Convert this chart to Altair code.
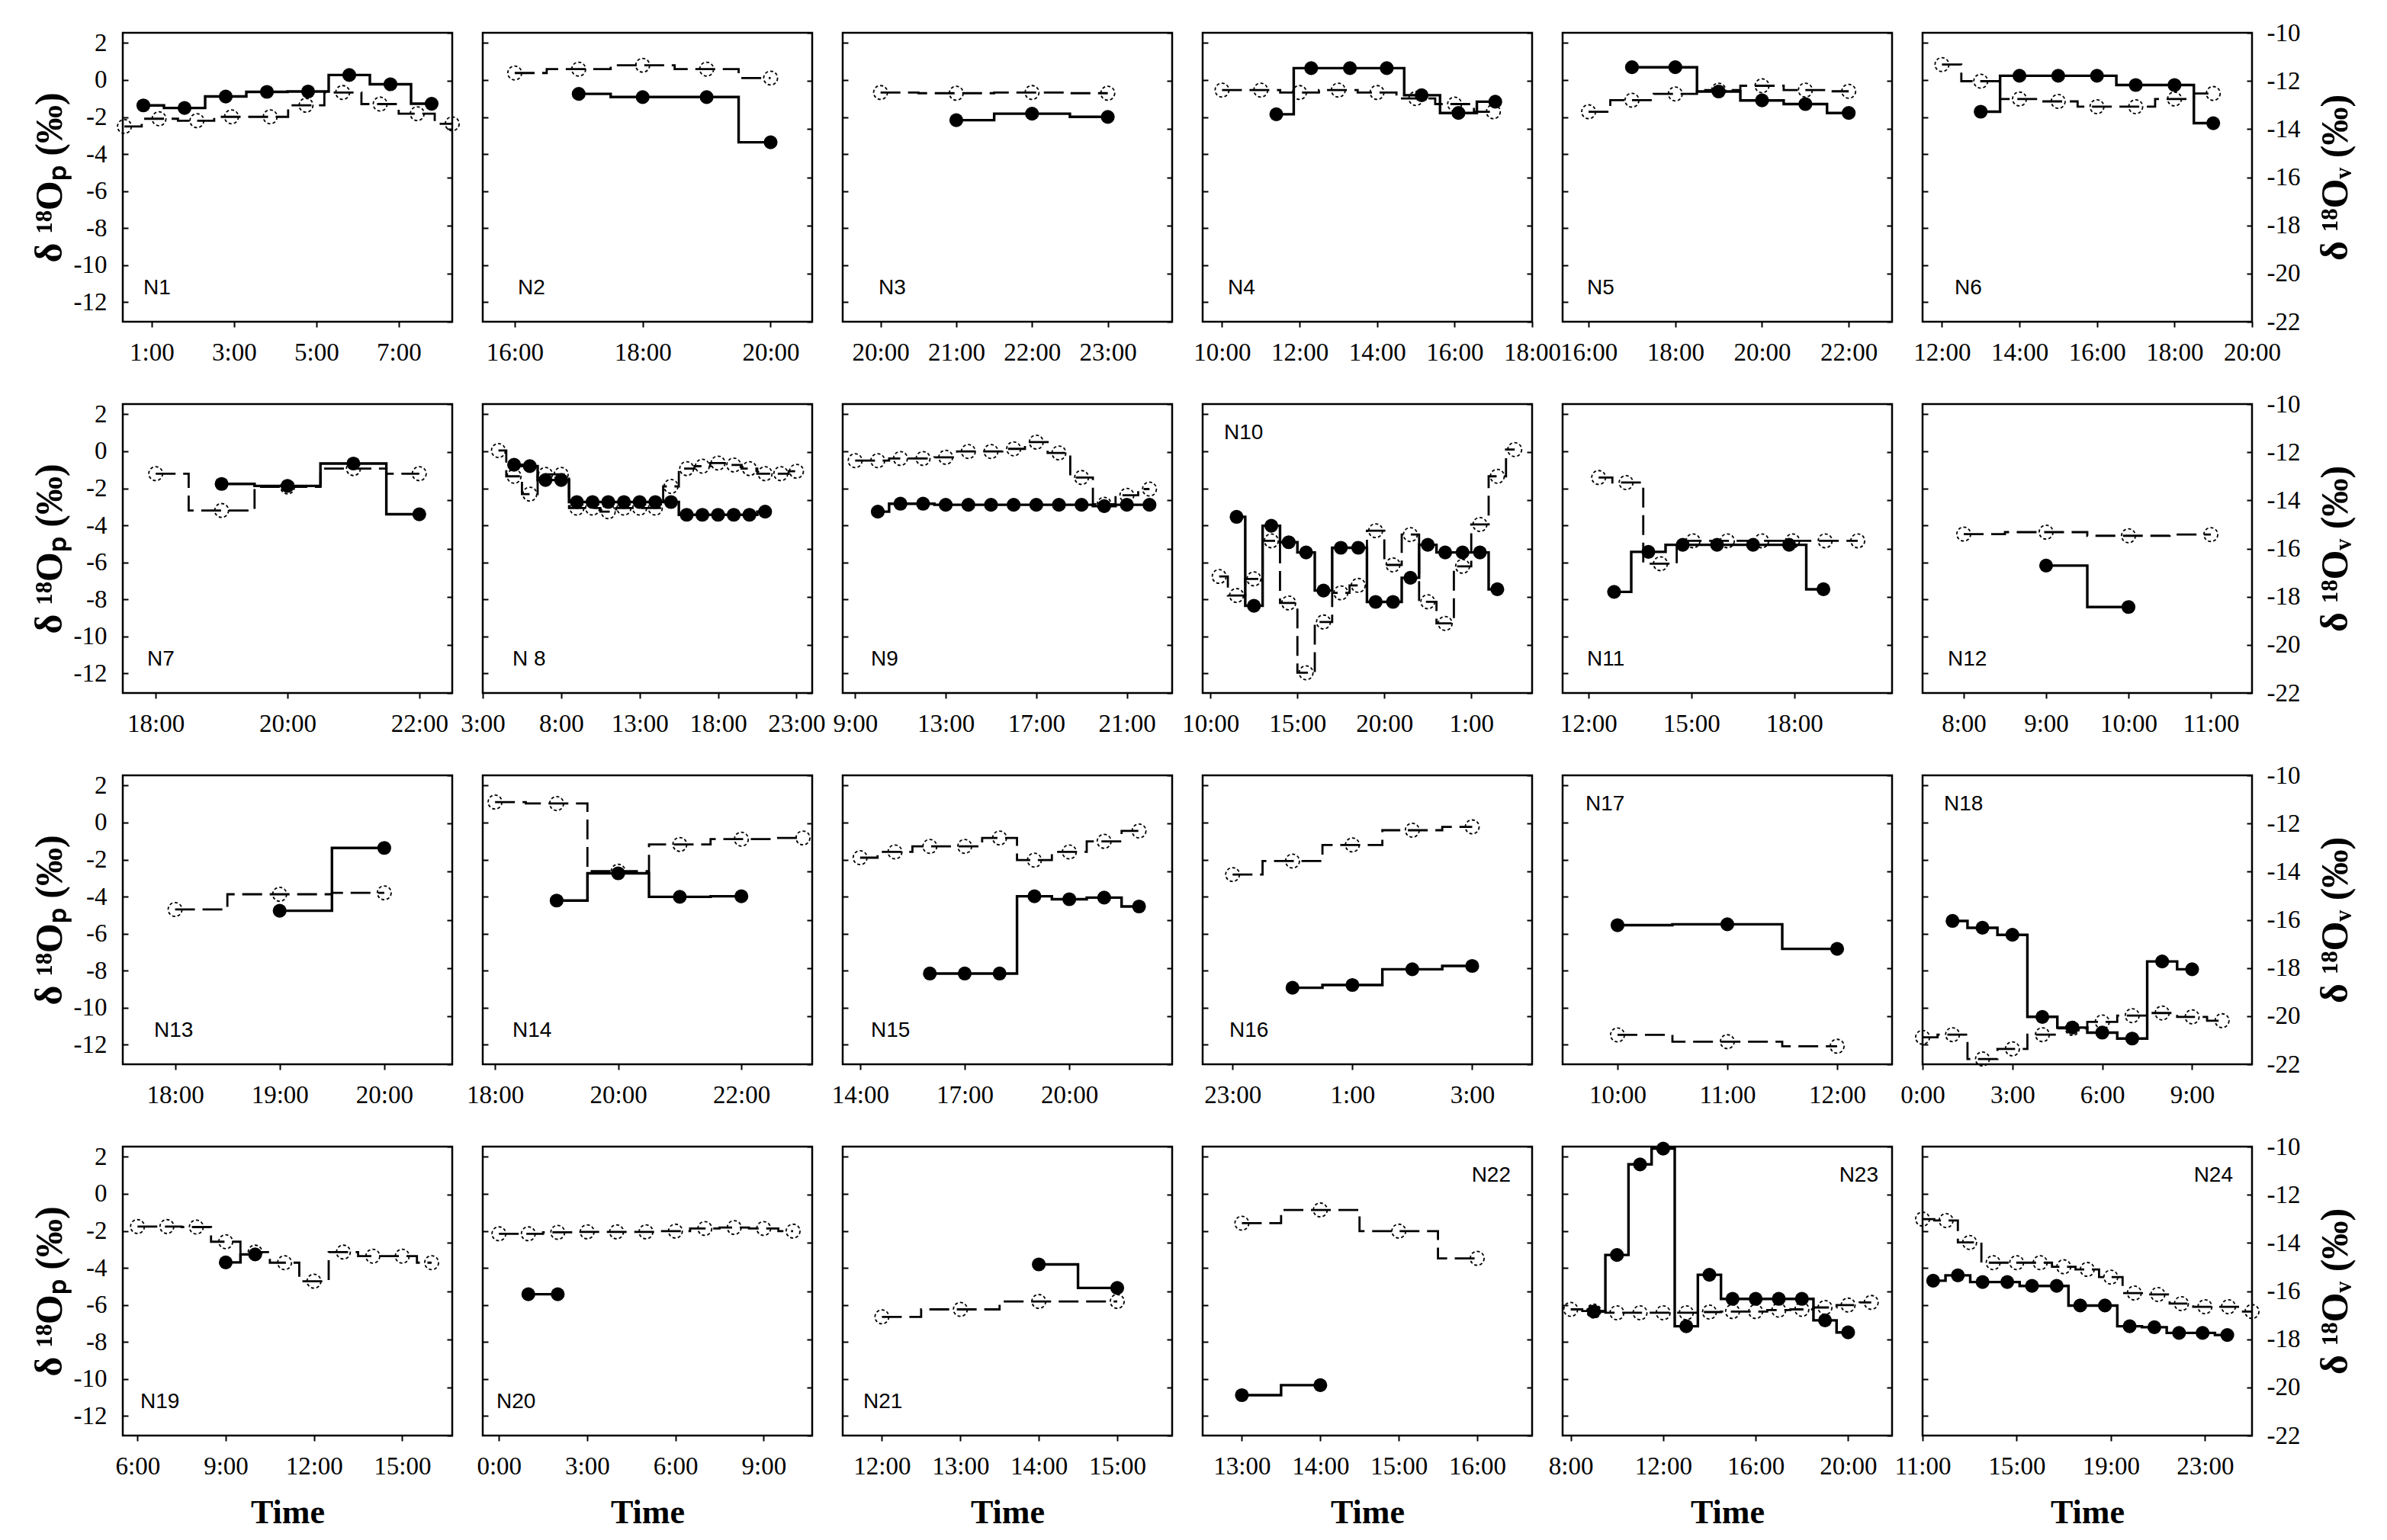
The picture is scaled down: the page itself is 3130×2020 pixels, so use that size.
import altair as alt
import pandas as pd

# ---------------- data (hours of day; delta18O in permil) ----------------
# p = precipitation (left axis, filled dots, solid step line)
# v = vapour (right axis, open dots, dashed step line)
N1_p_t = [0.8, 1.8, 2.8, 3.8, 4.8, 5.8, 6.8, 7.8]
N1_p = [-1.37, -1.51, -0.89, -0.64, -0.62, 0.27, -0.23, -1.28]
N1_v_t = [0.34, 1.18, 2.10, 2.94, 3.88, 4.75, 5.64, 6.55, 7.45, 8.3]
N1_v = [-13.89, -13.57, -13.65, -13.49, -13.49, -13.01, -12.48, -12.96, -13.36, -13.78]

N2_p_t = [17, 18, 19, 20]
N2_p = [-0.75, -0.92, -0.92, -3.36]
N2_v_t = [16, 17, 18, 19, 20]
N2_v = [-11.67, -11.51, -11.35, -11.51, -11.88]

N3_p_t = [21, 22, 23]
N3_p = [-2.17, -1.82, -1.99]
N3_v_t = [20, 21, 22, 23]
N3_v = [-12.48, -12.51, -12.48, -12.51]

N4_p_t = [11.4, 12.3, 13.3, 14.25, 15.15, 16.1, 17.05]
N4_p = [-1.85, 0.64, 0.64, 0.64, -0.82, -1.78, -1.17]
N4_v_t = [10, 11, 12, 13, 14, 15, 16, 17]
N4_v = [-12.38, -12.38, -12.48, -12.38, -12.48, -12.73, -12.96, -13.28]

N5_p_t = [17, 18, 19, 20, 21, 22]
N5_p = [0.69, 0.69, -0.62, -1.10, -1.30, -1.78]
N5_v_t = [16, 17, 18, 19, 20, 21, 22]
N5_v = [-13.28, -12.80, -12.54, -12.38, -12.20, -12.38, -12.43]

N6_p_t = [13, 14, 15, 16, 17, 18, 19]
N6_p = [-1.71, 0.23, 0.23, 0.23, -0.27, -0.27, -2.33]
N6_v_t = [12, 13, 14, 15, 16, 17, 18, 19]
N6_v = [-11.32, -12.01, -12.75, -12.85, -13.07, -13.07, -12.75, -12.52]

N7_p_t = [19, 20, 21, 22]
N7_p = [-1.76, -1.87, -0.66, -3.40]
N7_v_t = [18, 19, 20, 21, 22]
N7_v = [-12.89, -14.42, -13.44, -12.68, -12.89]

N8_p_t = [5, 6, 7, 8, 9, 10, 11, 12, 13, 14, 15, 16, 17, 18, 19, 20, 21]
N8_p = [-0.73, -0.80, -1.55, -1.55, -2.74, -2.74, -2.74, -2.74, -2.74, -2.74,
        -2.74, -3.43, -3.43, -3.43, -3.43, -3.43, -3.26]
N8_v_t = [4, 5, 6, 7, 8, 9, 10, 11, 12, 13, 14, 15, 16, 17, 18, 19, 20, 21, 22, 23]
N8_v = [-11.93, -13.00, -13.74, -12.92, -12.92, -14.32, -14.32, -14.47, -14.32, -14.32,
        -14.32, -13.42, -12.68, -12.58, -12.45, -12.53, -12.68, -12.89, -12.89, -12.79]

N9_p_t = [10, 11, 12, 13, 14, 15, 16, 17, 18, 19, 20, 21, 22]
N9_p = [-3.26, -2.83, -2.83, -2.89, -2.89, -2.89, -2.89, -2.89, -2.89, -2.89, -2.96, -2.89, -2.89]
N9_v_t = [9, 10, 11, 12, 13, 14, 15, 16, 17, 18, 19, 20, 21, 22]
N9_v = [-12.35, -12.35, -12.26, -12.26, -12.21, -11.97, -11.97, -11.86, -11.58, -12.03,
        -13.05, -14.16, -13.79, -13.53]

N10_p_t = [11.5, 12.5, 13.5, 14.5, 15.5, 16.5, 17.5, 18.5, 19.5, 20.5, 21.5, 22.5,
           23.5, 24.5, 25.5, 26.5]
N10_p = [-3.54, -8.34, -4.02, -4.91, -5.46, -7.52, -5.21, -5.21, -8.13, -8.13, -6.83, -5.05,
         -5.46, -5.46, -5.46, -7.45]
N10_v_t = [10.5, 11.5, 12.5, 13.5, 14.5, 15.5, 16.5, 17.5, 18.5, 19.5, 20.5, 21.5, 22.5,
           23.5, 24.5, 25.5, 26.5, 27.5]
N10_v = [-17.16, -17.95, -17.26, -15.68, -18.26, -21.16, -19.05, -17.84, -17.53, -15.26,
         -16.68, -15.42, -18.21, -19.11, -16.74, -15.00, -13.00, -11.89]

N11_p_t = [12.75, 13.75, 14.75, 15.75, 16.8, 17.85, 18.85]
N11_p = [-7.59, -5.43, -5.05, -5.05, -5.05, -5.05, -7.45]
N11_v_t = [12.3, 13.1, 14.1, 15.05, 16.05, 17.05, 17.95, 18.9, 19.85]
N11_v = [-13.05, -13.26, -16.63, -15.68, -15.68, -15.68, -15.68, -15.68, -15.68]

N12_p_t = [9, 10]
N12_p = [-6.17, -8.41]
N12_v_t = [8, 9, 10, 11]
N12_v = [-15.40, -15.32, -15.47, -15.42]

N13_p_t = [19, 20]
N13_p = [-4.76, -1.37]
N13_v_t = [18, 19, 20]
N13_v = [-15.57, -14.94, -14.88]

N14_p_t = [19, 20, 21, 22]
N14_p = [-4.21, -2.74, -4.01, -3.98]
N14_v_t = [18, 19, 20, 21, 22, 23]
N14_v = [-11.11, -11.17, -13.98, -12.87, -12.65, -12.60]

N15_p_t = [16, 17, 18, 19, 20, 21, 22]
N15_p = [-8.15, -8.15, -8.15, -3.98, -4.14, -4.05, -4.53]
N15_v_t = [14, 15, 16, 17, 18, 19, 20, 21, 22]
N15_v = [-13.42, -13.18, -12.95, -12.95, -12.60, -13.52, -13.18, -12.74, -12.31]

N16_p_t = [24, 25, 26, 27]
N16_p = [-8.92, -8.77, -7.92, -7.74]
N16_v_t = [23, 24, 25, 26, 27]
N16_v = [-14.12, -13.56, -12.89, -12.28, -12.14]

N17_p_t = [10, 11, 12]
N17_p = [-5.54, -5.49, -6.82]
N17_v_t = [10, 11, 12]
N17_v = [-20.78, -21.06, -21.25]

N18_p_t = [1, 2, 3, 4, 5, 6, 7, 8, 9]
N18_p = [-5.31, -5.68, -6.06, -10.49, -11.07, -11.34, -11.66, -7.50, -7.92]
N18_v_t = [0, 1, 2, 3, 4, 5, 6, 7, 8, 9, 10]
N18_v = [-20.88, -20.77, -21.78, -21.36, -20.77, -20.51, -20.24, -19.98, -19.87, -20.03, -20.19]

N19_p_t = [9, 10]
N19_p = [-3.70, -3.27]
N19_v_t = [6, 7, 8, 9, 10, 11, 12, 13, 14, 15, 16]
N19_v = [-13.32, -13.32, -13.34, -13.95, -14.38, -14.82, -15.59, -14.38, -14.55, -14.55, -14.82]

N20_p_t = [1, 2]
N20_p = [-5.42, -5.42]
N20_v_t = [0, 1, 2, 3, 4, 5, 6, 7, 8, 9, 10]
N20_v = [-13.62, -13.62, -13.56, -13.54, -13.54, -13.54, -13.51, -13.40, -13.36, -13.40, -13.51]

N21_p_t = [14, 15]
N21_p = [-3.81, -5.08]
N21_v_t = [12, 13, 14, 15]
N21_v = [-17.07, -16.76, -16.43, -16.43]

N22_p_t = [13, 14]
N22_p = [-10.87, -10.33]
N22_v_t = [13, 14, 15, 16]
N22_v = [-13.18, -12.63, -13.51, -14.64]

N23_p_t = [9, 10, 11, 12, 13, 14, 15, 16, 17, 18, 19, 20]
N23_p = [-6.35, -3.30, 1.59, 2.44, -7.15, -4.37, -5.67, -5.67, -5.67, -5.67, -6.83, -7.48]
N23_v_t = [8, 9, 10, 11, 12, 13, 14, 15, 16, 17, 18, 19, 20, 21]
N23_v = [-16.76, -16.83, -16.90, -16.90, -16.90, -16.90, -16.87, -16.85, -16.85, -16.79,
         -16.76, -16.68, -16.58, -16.47]

N24_p_t = [11.45, 12.5, 13.55, 14.6, 15.65, 16.7, 17.7, 18.75, 19.8, 20.85, 21.9, 22.9, 23.95]
N24_p = [-4.69, -4.40, -4.76, -4.76, -4.97, -4.97, -6.03, -6.03, -7.15, -7.20, -7.51, -7.51, -7.62]
N24_v_t = [11, 12, 13, 14, 15, 16, 17, 18, 19, 20, 21, 22, 23, 24, 25]
N24_v = [-13.01, -13.07, -13.98, -14.82, -14.82, -14.82, -14.99, -15.10, -15.42, -16.08,
         -16.14, -16.52, -16.65, -16.65, -16.85]

# panel name, data, x-domain (hours), x tick hours
PANELS = [
    ("N1", N1_p_t, N1_p, N1_v_t, N1_v, [0.3, 8.3], [1, 3, 5, 7]),
    ("N2", N2_p_t, N2_p, N2_v_t, N2_v, [15.5, 20.65], [16, 18, 20]),
    ("N3", N3_p_t, N3_p, N3_v_t, N3_v, [19.5, 23.85], [20, 21, 22, 23]),
    ("N4", N4_p_t, N4_p, N4_v_t, N4_v, [9.5, 18.0], [10, 12, 14, 16, 18]),
    ("N5", N5_p_t, N5_p, N5_v_t, N5_v, [15.4, 23.0], [16, 18, 20, 22]),
    ("N6", N6_p_t, N6_p, N6_v_t, N6_v, [11.5, 20.0], [12, 14, 16, 18, 20]),
    ("N7", N7_p_t, N7_p, N7_v_t, N7_v, [17.5, 22.5], [18, 20, 22]),
    ("N 8", N8_p_t, N8_p, N8_v_t, N8_v, [3.0, 24.0], [3, 8, 13, 18, 23]),
    ("N9", N9_p_t, N9_p, N9_v_t, N9_v, [8.45, 23.0], [9, 13, 17, 21]),
    ("N10", N10_p_t, N10_p, N10_v_t, N10_v, [9.55, 28.5], [10, 15, 20, 25]),
    ("N11", N11_p_t, N11_p, N11_v_t, N11_v, [11.25, 20.85], [12, 15, 18, 21]),
    ("N12", N12_p_t, N12_p, N12_v_t, N12_v, [7.5, 11.5], [8, 9, 10, 11]),
    ("N13", N13_p_t, N13_p, N13_v_t, N13_v, [17.5, 20.65], [18, 19, 20]),
    ("N14", N14_p_t, N14_p, N14_v_t, N14_v, [17.8, 23.15], [18, 20, 22]),
    ("N15", N15_p_t, N15_p, N15_v_t, N15_v, [13.5, 22.95], [14, 17, 20, 23]),
    ("N16", N16_p_t, N16_p, N16_v_t, N16_v, [22.5, 28.0], [23, 25, 27]),
    ("N17", N17_p_t, N17_p, N17_v_t, N17_v, [9.5, 12.5], [10, 11, 12]),
    ("N18", N18_p_t, N18_p, N18_v_t, N18_v, [0.0, 11.0], [0, 3, 6, 9]),
    ("N19", N19_p_t, N19_p, N19_v_t, N19_v, [5.5, 16.7], [6, 9, 12, 15]),
    ("N20", N20_p_t, N20_p, N20_v_t, N20_v, [-0.55, 10.65], [0, 3, 6, 9]),
    ("N21", N21_p_t, N21_p, N21_v_t, N21_v, [11.5, 15.7], [12, 13, 14, 15]),
    ("N22", N22_p_t, N22_p, N22_v_t, N22_v, [12.5, 16.7], [13, 14, 15, 16]),
    ("N23", N23_p_t, N23_p, N23_v_t, N23_v, [7.65, 21.9], [8, 12, 16, 20]),
    ("N24", N24_p_t, N24_p, N24_v_t, N24_v, [11.0, 25.0], [11, 15, 19, 23]),
]

P_TICKS = [-12, -10, -8, -6, -4, -2, 0, 2]
V_TICKS = [-22, -20, -18, -16, -14, -12, -10]

# ---------------- layout / style ----------------
W, H = 432, 379
P_DOM = [-13.05, 2.55]
V_DOM = [-22, -10]
SERIF = "Liberation Serif"
SANS = "Liberation Sans"
TICK_FS = 33

# panel-name placement: corner and horizontal inset (px)
LABEL_POS = {
    "N1": ("bl", 27), "N2": ("bl", 46), "N3": ("bl", 47), "N4": ("bl", 33),
    "N5": ("bl", 32), "N6": ("bl", 42), "N7": ("bl", 32), "N 8": ("bl", 39),
    "N9": ("bl", 37), "N10": ("tl", 28), "N11": ("bl", 32), "N12": ("bl", 33),
    "N13": ("bl", 41), "N14": ("bl", 39), "N15": ("bl", 37), "N16": ("bl", 35),
    "N17": ("tl", 30), "N18": ("tl", 28), "N19": ("bl", 23), "N20": ("bl", 18),
    "N21": ("bl", 27), "N22": ("tr", 28), "N23": ("tr", 18), "N24": ("tr", 25),
}


def make_panel(idx, spec):
    name, pt, pv, vt, vv, xdom, xticks = spec
    row, col = divmod(idx, 6)
    pdf = pd.DataFrame({"hour": pt, "d18O": pv})
    vdf = pd.DataFrame({"hour": vt, "d18O": vv})

    xkw = dict(values=xticks, labelExpr="(datum.value % 24) + ':00'",
               labelFlush=False, labelOverlap=False, tickSize=7, tickWidth=2,
               tickColor="black", labelPadding=17, labelFont=SERIF,
               labelFontSize=TICK_FS, labelColor="black", domain=False, grid=False)
    if row == 3:
        xkw.update(title="Time", titleFont=SERIF, titleFontSize=44,
                   titleFontWeight="bold", titlePadding=22, titleColor="black")
    else:
        xkw.update(title=None)
    xenc = alt.X("hour:Q", scale=alt.Scale(domain=xdom, nice=False, zero=False),
                 axis=alt.Axis(**xkw))

    pkw = dict(orient="left", values=P_TICKS, offset=-7, tickSize=7, tickWidth=2,
               tickColor="black", domain=False, grid=False, labels=(col == 0),
               labelExpr="'' + datum.value", labelFont=SERIF, labelFontSize=TICK_FS,
               labelColor="black", labelPadding=21, labelFlush=False)
    if col == 0:
        pkw.update(title="δ ¹⁸Oₚ (‰)", titleFont=SERIF, titleFontSize=50,
                   titleFontWeight="bold", titlePadding=6, titleColor="black")
    else:
        pkw.update(title=None)

    vkw = dict(orient="right", values=V_TICKS, offset=-7, tickSize=7, tickWidth=2,
               tickColor="black", domain=False, grid=False, labels=(col == 5),
               labelExpr="'' + datum.value", labelFont=SERIF, labelFontSize=TICK_FS,
               labelColor="black", labelPadding=19, labelFlush=False)
    if col == 5:
        vkw.update(title="δ ¹⁸Oᵥ (‰)", titleFont=SERIF, titleFontSize=50,
                   titleFontWeight="bold", titlePadding=22, titleColor="black",
                   titleAngle=270, titleBaseline="top")
    else:
        vkw.update(title=None)

    pscale = alt.Scale(domain=P_DOM, nice=False, zero=False)
    vscale = alt.Scale(domain=V_DOM, nice=False, zero=False)

    v_line = alt.Chart(vdf).mark_line(
        interpolate="step", color="black", strokeWidth=2.8, strokeDash=[26, 10]
    ).encode(x=xenc, y=alt.Y("d18O:Q", scale=vscale, axis=alt.Axis(**vkw)))
    v_pts = alt.Chart(vdf).mark_point(
        shape="circle", filled=False, size=330, color="black", strokeWidth=1.8,
        strokeDash=[4, 3], opacity=1
    ).encode(x=xenc, y=alt.Y("d18O:Q", scale=vscale, axis=None))
    p_line = alt.Chart(pdf).mark_line(
        interpolate="step", color="black", strokeWidth=3.4
    ).encode(x=xenc, y=alt.Y("d18O:Q", scale=pscale, axis=alt.Axis(**pkw)))
    p_pts = alt.Chart(pdf).mark_point(
        shape="circle", filled=True, size=330, color="black", opacity=1
    ).encode(x=xenc, y=alt.Y("d18O:Q", scale=pscale, axis=None))

    corner, inset = LABEL_POS[name]
    if corner == "bl":
        lx, ly, al = inset, 335, "left"
    elif corner == "tl":
        lx, ly, al = inset, 38, "left"
    else:
        lx, ly, al = W - inset, 38, "right"
    lab = alt.Chart(pd.DataFrame({"panel": [name]})).mark_text(
        font=SANS, fontSize=28, align=al, baseline="middle", color="black"
    ).encode(x=alt.value(lx), y=alt.value(ly), text="panel:N")

    return alt.layer(v_line, v_pts, p_line, p_pts, lab).resolve_scale(
        y="independent"
    ).properties(width=W, height=H)


panels = [make_panel(i, s) for i, s in enumerate(PANELS)]

chart = alt.concat(
    *panels, columns=6, spacing={"row": 108, "column": 40}, bounds="flush"
).configure_view(
    stroke="black", strokeWidth=2.5
).properties(
    background="white",
    padding={"left": 30, "top": 17, "right": 5, "bottom": 5},
)

chart.save("out.html", embed_options={"renderer": "svg", "actions": False})
